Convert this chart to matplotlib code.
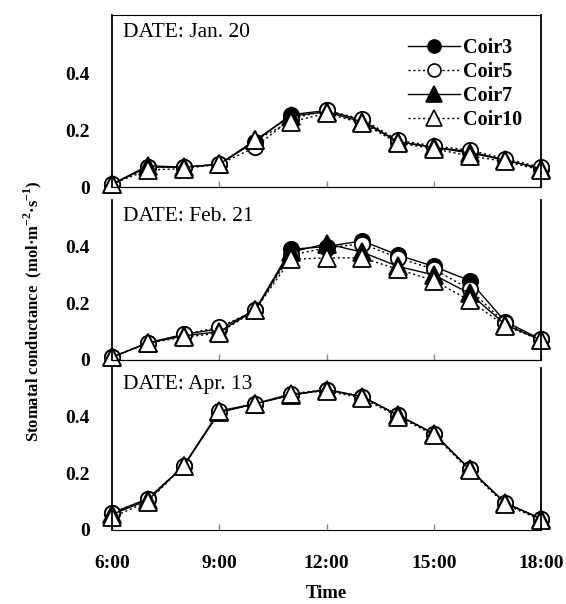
import matplotlib
matplotlib.use("Agg")
import matplotlib.pyplot as plt
from matplotlib.lines import Line2D

plt.rcParams["font.family"] = ["Liberation Serif", "DejaVu Serif"]
plt.rcParams["mathtext.fontset"] = "custom"
plt.rcParams["mathtext.rm"] = "Liberation Serif:bold"
plt.rcParams["mathtext.bf"] = "Liberation Serif:bold"

hours = [6, 7, 8, 9, 10, 11, 12, 13, 14, 15, 16, 17, 18]
xtick_pos = [6, 9, 12, 15, 18]
xtick_labels = ["6:00", "9:00", "12:00", "15:00", "18:00"]
ytick_pos = [0, 0.2, 0.4]
ytick_labels = ["0", "0.2", "0.4"]
dates = ["DATE: Jan. 20", "DATE: Feb. 21", "DATE: Apr. 13"]
series = ["Coir3", "Coir5", "Coir7", "Coir10"]

# Jan. 20
jan_coir3 = [0.01, 0.07, 0.07, 0.08, 0.16, 0.255, 0.27, 0.235, 0.16, 0.14, 0.125, 0.095, 0.065]
jan_coir5 = [0.01, 0.07, 0.07, 0.08, 0.14, 0.24, 0.27, 0.24, 0.165, 0.145, 0.13, 0.10, 0.07]
jan_coir7 = [0.01, 0.075, 0.07, 0.08, 0.165, 0.25, 0.265, 0.23, 0.16, 0.14, 0.12, 0.095, 0.065]
jan_coir10 = [0.01, 0.06, 0.065, 0.08, 0.165, 0.23, 0.26, 0.225, 0.155, 0.135, 0.11, 0.09, 0.06]

# Feb. 21
feb_coir3 = [0.01, 0.06, 0.09, 0.11, 0.175, 0.39, 0.40, 0.42, 0.37, 0.33, 0.28, 0.135, 0.073]
feb_coir5 = [0.01, 0.06, 0.09, 0.115, 0.175, 0.37, 0.395, 0.41, 0.36, 0.32, 0.25, 0.13, 0.073]
feb_coir7 = [0.01, 0.06, 0.085, 0.10, 0.175, 0.38, 0.41, 0.38, 0.33, 0.30, 0.235, 0.125, 0.07]
feb_coir10 = [0.01, 0.06, 0.08, 0.095, 0.175, 0.355, 0.36, 0.36, 0.32, 0.28, 0.21, 0.12, 0.07]

# Apr. 13
apr_coir3 = [0.06, 0.11, 0.225, 0.415, 0.445, 0.475, 0.495, 0.47, 0.405, 0.34, 0.215, 0.095, 0.04]
apr_coir5 = [0.06, 0.11, 0.225, 0.42, 0.445, 0.48, 0.495, 0.47, 0.405, 0.34, 0.215, 0.095, 0.04]
apr_coir7 = [0.055, 0.105, 0.225, 0.415, 0.445, 0.475, 0.495, 0.47, 0.405, 0.34, 0.215, 0.095, 0.04]
apr_coir10 = [0.045, 0.10, 0.225, 0.42, 0.445, 0.48, 0.49, 0.465, 0.40, 0.335, 0.21, 0.09, 0.035]

panels = [
    [jan_coir3, jan_coir5, jan_coir7, jan_coir10],
    [feb_coir3, feb_coir5, feb_coir7, feb_coir10],
    [apr_coir3, apr_coir5, apr_coir7, apr_coir10],
]

styles = [
    dict(marker="o", mfc="black", ms=11, ls="-"),
    dict(marker="o", mfc="white", ms=11, ls=(0, (1.5, 2))),
    dict(marker="^", mfc="black", ms=13, ls="-"),
    dict(marker="^", mfc="white", ms=13, ls=(0, (1.5, 2))),
]

fig = plt.figure(figsize=(5.66, 6.04), dpi=100)
W, H = 566, 604
left, right = 112, 541
boxes = [(15, 187, 0.607), (200, 360, 0.564), (368, 530, 0.571)]

for i, ((top, bot, ymax), data, date) in enumerate(zip(boxes, panels, dates)):
    ax = fig.add_axes([left / W, (H - bot) / H, (right - left) / W, (bot - top) / H])
    for vals, st in zip(data, styles):
        ax.plot(hours, vals, color="black", lw=1.0, mec="black", mew=1.3,
                clip_on=False, **st)
    ax.set_xlim(6, 18)
    ax.set_ylim(0, ymax)
    ax.set_yticks(ytick_pos)
    ax.set_yticklabels(ytick_labels, fontsize=14, fontweight="bold")
    ax.tick_params(axis="y", length=0, pad=16)
    ax.set_xticks(xtick_pos)
    ax.tick_params(axis="x", direction="in", length=4, color="#888888", width=1)
    if i == 2:
        ax.set_xticklabels(xtick_labels, fontsize=14, fontweight="bold")
        ax.tick_params(axis="x", pad=18)
    else:
        ax.set_xticklabels([])
        ax.spines["bottom"].set_linestyle((0, (1, 1)))
        ax.spines["bottom"].set_linewidth(0.9)
    if i > 0:
        ax.spines["top"].set_visible(False)
    for s in ["left", "right"]:
        ax.spines[s].set_linewidth(1.3)
    ax.text(0.025, 0.955, date, transform=ax.transAxes, fontsize=15.5,
            va="top", ha="left")
    if i == 0:
        handles = [Line2D([], [], color="black", lw=1.0, mec="black", mew=1.2,
                          marker=st["marker"], mfc=st["mfc"], ms=st["ms"] * 0.85,
                          ls=st["ls"]) for st in styles]
        ax.legend(handles, series, loc="upper right", frameon=False,
                  prop={"size": 14.5, "weight": "bold"}, handlelength=2.6,
                  handletextpad=0.15, labelspacing=0.2,
                  borderaxespad=0.3, bbox_to_anchor=(0.99, 0.95))

fig.text(326 / W, 1 - 593 / H, "Time", ha="center", va="center",
         fontsize=13.5, fontweight="bold")
fig.text(33 / W, 1 - 311 / H, "Stomatal conductance  (mol\u00b7m$^{-2}$\u00b7s$^{-1}$)",
         rotation=90, ha="center", va="center", fontsize=12, fontweight="bold")

fig.savefig("out.png", dpi=100)
